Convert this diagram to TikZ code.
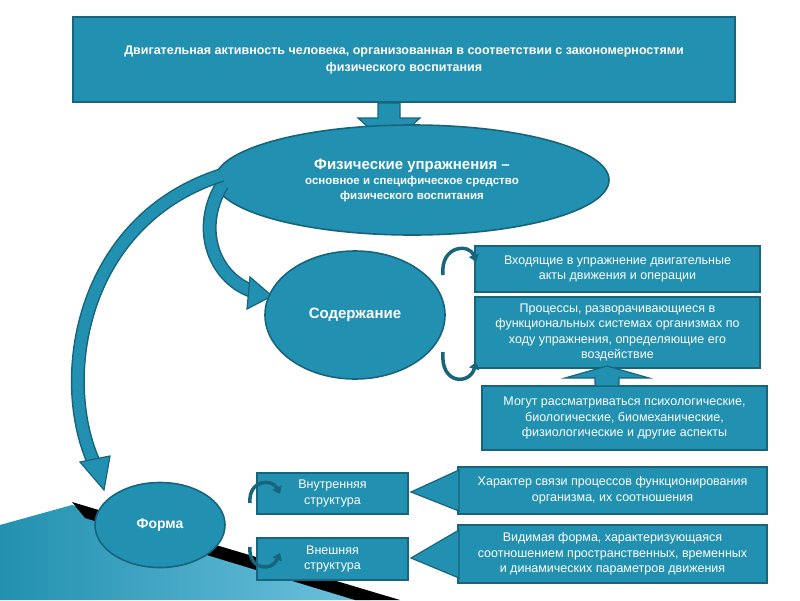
\documentclass[tikz,border=0pt]{standalone}
\usepackage{fontspec}
\setmainfont{Liberation Sans}
\usetikzlibrary{arrows.meta,shapes.geometric,shapes.callouts}
\definecolor{tfill}{HTML}{2290B0}
\definecolor{tdark}{HTML}{17657D}
\definecolor{tlight}{HTML}{6EC3DE}
\tikzset{
 bx/.style={draw=tdark,line width=1.6pt,fill=tfill,text=white,align=center,inner sep=2pt,font=\fontsize{12.5}{15.5}\selectfont},
 ell/.style={ellipse,draw=tdark,line width=1.6pt,fill=tfill,text=white,align=center,font=\bfseries},
 curl/.style={draw=tdark,line width=3.5pt,-{Triangle[width=10pt,length=7pt]}},
}
\begin{document}
\begin{tikzpicture}[x=1pt,y=-1pt]
\useasboundingbox (0,0) rectangle (800,600);
\fill[white] (0,0) rectangle (800,600);
% decoration bottom-left
\shade[left color=tfill,right color=tlight] (0,525) -- (72,505) -- (370,600) -- (0,600) -- cycle;
\fill[black] (72,502) -- (400,600) -- (355,600) -- (85,518) -- cycle;
% top box
\node[bx,minimum width=662,minimum height=85,font=\bfseries\fontsize{12.5}{17}\selectfont] (top) at (404,59.5)
 {Двигательная активность человека, организованная в соответствии с закономерностями\\физического воспитания};
% big down arrow
\fill[tfill,draw=tdark,line width=1.2pt] (378,103) -- (400,103) -- (400,118) -- (420,118) -- (389,146) -- (358,118) -- (378,118) -- cycle;
% ellipse 1
\node[ell,minimum width=394,minimum height=110,font=\bfseries\fontsize{11.5}{15}\selectfont] (e1) at (412,180)
 {{\fontsize{15}{18}\selectfont Физические упражнения --}\\основное и специфическое средство\\физического воспитания};
% sweeping arrows
\draw[tdark,line width=14pt] (222,185) .. controls (195,230) and (215,280) .. (255,292);
\draw[tfill,line width=11pt] (222,185) .. controls (195,230) and (215,280) .. (255,292);
\fill[tfill,draw=tdark,line width=1.2pt] (250,277) -- (272,296) -- (247,309) -- cycle;
\draw[tdark,line width=14pt] (222,175) .. controls (80,220) and (55,380) .. (95,465);
\draw[tfill,line width=11pt] (222,175) .. controls (80,220) and (55,380) .. (95,465);
\fill[tfill,draw=tdark,line width=1.2pt] (80,462) -- (110,456) -- (104,490) -- cycle;
% Содержание
\node[ell,minimum width=180,minimum height=128,font=\bfseries\fontsize{15}{17}\selectfont] (c) at (355,315) {Содержание};
\node[bx,minimum width=285,minimum height=46] (a) at (617.5,269) {Входящие в упражнение двигательные\\акты движения и операции};
\node[bx,minimum width=285,minimum height=71] (b) at (617.5,332.5) {Процессы, разворачивающиеся в\\функциональных системах организмах по\\ходу упражнения, определяющие его\\воздействие};
\node[bx,minimum width=285,minimum height=64] (cc) at (624.5,418) {Могут рассматриваться психологические,\\биологические, биомеханические,\\физиологические и другие аспекты};
\fill[tfill,draw=tdark,line width=1.2pt] (595,386) -- (595,378) -- (565,378) -- (607,366) -- (649,378) -- (619,378) -- (619,386) -- cycle;
\draw[curl] (443,275) .. controls (440,245) and (470,243) .. (476,262);
\draw[curl] (443,352) .. controls (440,385) and (470,385) .. (476,362);
% Форма
\node[ell,minimum width=130,minimum height=85,font=\bfseries\fontsize{14}{16}\selectfont] (f) at (160,525) {Форма};
\node[bx,minimum width=151,minimum height=41] (vn) at (332.5,493.5) {Внутренняя\\структура};
\node[bx,minimum width=151,minimum height=42] (vs) at (332.5,559) {Внешняя\\структура};
\node[bx,minimum width=309,minimum height=47] (r1) at (612.5,490.5) {Характер связи процессов функционирования\\организма, их соотношения};
\node[bx,minimum width=309,minimum height=58] (r2) at (612.5,554) {Видимая форма, характеризующаяся\\соотношением пространственных, временных\\и динамических параметров движения};
\fill[tfill,draw=tdark,line width=1.2pt] (459,470) -- (411,492) -- (459,511) -- cycle;
\fill[tfill,draw=tdark,line width=1.2pt] (459,530) -- (411,558) -- (459,578) -- cycle;
\draw[curl] (250,503) .. controls (248,480) and (272,478) .. (280,494);
\draw[curl] (250,547) .. controls (248,570) and (272,572) .. (280,553);
\end{tikzpicture}
\end{document}
